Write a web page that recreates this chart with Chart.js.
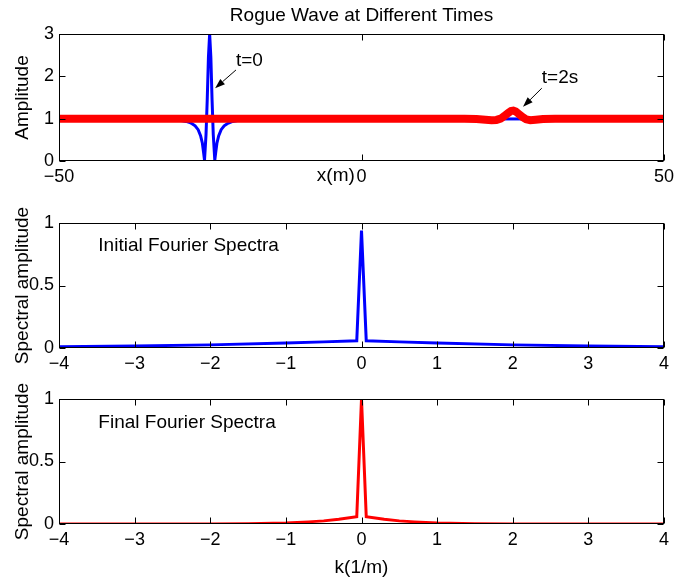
<!DOCTYPE html>
<html><head><meta charset="utf-8">
<script src="https://cdn.jsdelivr.net/npm/chart.js@4/dist/chart.umd.min.js"></script>
<style>
html,body{margin:0;padding:0;background:#fff;}
#wrap{position:relative;width:692px;height:582px;overflow:hidden;background:#fff;}
canvas{position:absolute;left:0;}
</style></head><body>
<div id="wrap">
<canvas id="c1" width="692" height="195" style="top:0px"></canvas>
<canvas id="c2" width="692" height="180" style="top:195px"></canvas>
<canvas id="c3" width="692" height="207" style="top:375px"></canvas>
</div>
<script>
// ---- data ----
const waveX0 = [-50, -33, -31, -30, -29, -28.5, -28, -27.5, -27, -26.6, -26.3, -26.1, -25.95, -25.7, -25.5, -25.3, -25.1, -24.9, -24.7, -24.5, -24.25, -24.1, -23.9, -23.6, -23.2, -22.7, -22.2, -21.5, -20.5, -19, -17, 50];
const waveY0 = [1, 0.985, 0.97, 0.96, 0.935, 0.915, 0.88, 0.83, 0.74, 0.6, 0.42, 0.2, 0.02, 0.62, 1.44, 2.45, 3.0, 2.45, 1.44, 0.62, 0.02, 0.2, 0.42, 0.6, 0.74, 0.83, 0.88, 0.925, 0.955, 0.975, 0.985, 1];
const waveX2 = [-50, 17, 19, 20.5, 21.5, 22.3, 23, 23.6, 24.2, 24.7, 25.1, 25.5, 26, 26.6, 27.2, 27.9, 28.8, 30, 32, 50];
const waveY2 = [1, 1, 0.99, 0.975, 0.965, 0.97, 1.0, 1.06, 1.13, 1.18, 1.19, 1.17, 1.11, 1.04, 0.985, 0.965, 0.975, 0.99, 1, 1];
const kInit = [-4, -3, -2, -1, -0.5, -0.0628, 0, 0.0628, 0.5, 1, 2, 3, 4];
const specInit = [0.01, 0.016, 0.025, 0.04, 0.049, 0.058, 0.94, 0.058, 0.049, 0.04, 0.025, 0.016, 0.01];
const kFinal = [-4, -2.5, -2, -1.5, -1, -0.7, -0.5, -0.3, -0.0628, 0, 0.0628, 0.3, 0.5, 0.7, 1, 1.5, 2, 2.5, 4];
const specFinal = [0, 0, 0.001, 0.003, 0.009, 0.017, 0.025, 0.038, 0.058, 1.0, 0.058, 0.038, 0.025, 0.017, 0.009, 0.003, 0.001, 0, 0];
const xTicksWave = [-50, 0, 50];
const yTicksWave = [0, 1, 2, 3];
const kTicks = [-4, -3, -2, -1, 0, 1, 2, 3, 4];
const specTicks = [0, 0.5, 1];

const FONT = '"Liberation Sans", Arial, Helvetica, sans-serif';
Chart.defaults.font.family = FONT;
Chart.defaults.color = '#000';

const pts = (xs, ys) => xs.map((x, i) => ({x, y: ys[i]}));
const fmt = v => String(v).replace('-', '\u2212');

const frame = {
  id: 'frame',
  afterDraw(chart, args, opts) {
    const {ctx, chartArea: ca, scales: {x, y}} = chart;
    const L = Math.round(ca.left) + 0.5, R = Math.round(ca.right) - 0.5;
    const T = Math.round(ca.top) + 0.5, B = Math.round(ca.bottom) - 0.5;
    ctx.save();
    ctx.strokeStyle = '#000';
    ctx.lineWidth = 1;
    ctx.strokeRect(L, T, R - L, B - T);
    const tl = 6;
    ctx.beginPath();
    x.ticks.forEach(t => {
      const px = Math.round(x.getPixelForValue(t.value)) + 0.5;
      ctx.moveTo(px, B); ctx.lineTo(px, B - tl);
      ctx.moveTo(px, T); ctx.lineTo(px, T + tl);
    });
    y.ticks.forEach(t => {
      const py = Math.round(y.getPixelForValue(t.value)) + 0.5;
      ctx.moveTo(L, py); ctx.lineTo(L + tl, py);
      ctx.moveTo(R, py); ctx.lineTo(R - tl, py);
    });
    ctx.stroke();
    // annotations
    const notes = opts.notes || [];
    ctx.fillStyle = '#000';
    notes.forEach(n => {
      ctx.font = '19px ' + FONT;
      ctx.textAlign = n.align || 'left';
      ctx.textBaseline = 'middle';
      const px = n.px !== undefined ? n.px : x.getPixelForValue(n.x);
      const py = n.py !== undefined ? n.py : y.getPixelForValue(n.y);
      ctx.fillText(n.text, px, py);
    });
    const arrows = opts.arrows || [];
    arrows.forEach(a => {
      const x1 = x.getPixelForValue(a.from[0]), y1 = y.getPixelForValue(a.from[1]);
      const x2 = x.getPixelForValue(a.to[0]), y2 = y.getPixelForValue(a.to[1]);
      const ang = Math.atan2(y2 - y1, x2 - x1);
      const hl = 10, hw = 3.5;
      ctx.beginPath();
      ctx.lineWidth = 1;
      ctx.moveTo(x1, y1);
      ctx.lineTo(x2 - hl * Math.cos(ang), y2 - hl * Math.sin(ang));
      ctx.stroke();
      ctx.beginPath();
      ctx.moveTo(x2, y2);
      ctx.lineTo(x2 - hl * Math.cos(ang) + hw * Math.sin(ang), y2 - hl * Math.sin(ang) - hw * Math.cos(ang));
      ctx.lineTo(x2 - hl * Math.cos(ang) - hw * Math.sin(ang), y2 - hl * Math.sin(ang) + hw * Math.cos(ang));
      ctx.closePath();
      ctx.fill();
    });
    ctx.restore();
  }
};

function axisX(min, max, ticks, h, title) {
  return {
    type: 'linear', min, max,
    afterBuildTicks: s => { s.ticks = ticks.map(v => ({value: v})); },
    afterFit: s => { s.height = h; },
    grid: {display: false, drawTicks: false},
    border: {display: false},
    ticks: {font: {size: 18}, color: '#000', padding: 5, maxRotation: 0, autoSkip: false, callback: fmt},
    title: title ? {display: true, text: title, font: {size: 19}, color: '#000', padding: {top: 0, bottom: 2.6}} : {display: false}
  };
}
function axisY(min, max, ticks, title) {
  return {
    type: 'linear', min, max,
    afterBuildTicks: s => { s.ticks = ticks.map(v => ({value: v})); },
    afterFit: s => { s.width = 59; },
    grid: {display: false, drawTicks: false},
    border: {display: false},
    ticks: {font: {size: 18}, color: '#000', padding: 5, callback: fmt},
    title: {display: true, text: title, font: {size: 19}, color: '#000', padding: {top: 11.6, bottom: 0}}
  };
}
const lineDs = (label, data, color, w) => ({
  label, data, borderColor: color, backgroundColor: color, borderWidth: w,
  pointRadius: 0, showLine: true, fill: false, tension: 0
});

new Chart(document.getElementById('c1'), {
  type: 'scatter',
  data: {datasets: [
    lineDs('t=2s', pts(waveX2, waveY2), '#ff0000', 8),
    lineDs('t=0', pts(waveX0, waveY0), '#0000ff', 3)
  ]},
  options: {
    responsive: false, animation: false, devicePixelRatio: 1,
    layout: {padding: {top: 0, right: 28, left: 0, bottom: 0}},
    scales: {x: axisX(-50, 50, xTicksWave, 34, null), y: axisY(0, 3, yTicksWave, 'Amplitude')},
    plugins: {
      legend: {display: false}, tooltip: {enabled: false},
      title: {display: true, text: 'Rogue Wave at Different Times', fullSize: false,
        font: {size: 19, weight: 'normal'}, color: '#000', padding: {top: 4, bottom: 7.2}},
      frame: {
        notes: [
          {text: 't=0', x: -20.75, y: 2.36},
          {text: 't=2s', x: 29.8, y: 1.97},
          {text: 'x(m)', x: -1.1, py: 176, align: 'right'}
        ],
        arrows: [
          {from: [-20.75, 2.15], to: [-24.2, 1.72]},
          {from: [29.8, 1.72], to: [26.7, 1.28]}
        ]
      }
    }
  },
  plugins: [frame]
});

new Chart(document.getElementById('c2'), {
  type: 'scatter',
  data: {datasets: [lineDs('Initial', pts(kInit, specInit), '#0000ff', 3)]},
  options: {
    responsive: false, animation: false, devicePixelRatio: 1,
    layout: {padding: {top: 28, right: 28, left: 0, bottom: 0}},
    scales: {x: axisX(-4, 4, kTicks, 27, null), y: axisY(0, 1, specTicks, 'Spectral amplitude')},
    plugins: {
      legend: {display: false}, tooltip: {enabled: false},
      frame: {notes: [{text: 'Initial Fourier Spectra', x: -3.48, y: 0.82}]}
    }
  },
  plugins: [frame]
});

new Chart(document.getElementById('c3'), {
  type: 'scatter',
  data: {datasets: [lineDs('Final', pts(kFinal, specFinal), '#ff0000', 3)]},
  options: {
    responsive: false, animation: false, devicePixelRatio: 1,
    layout: {padding: {top: 24, right: 28, left: 0, bottom: 0}},
    scales: {x: axisX(-4, 4, kTicks, 58, 'k(1/m)'), y: axisY(0, 1, specTicks, 'Spectral amplitude')},
    plugins: {
      legend: {display: false}, tooltip: {enabled: false},
      frame: {notes: [{text: 'Final Fourier Spectra', x: -3.48, y: 0.81}]}
    }
  },
  plugins: [frame]
});
</script>
</body></html>
